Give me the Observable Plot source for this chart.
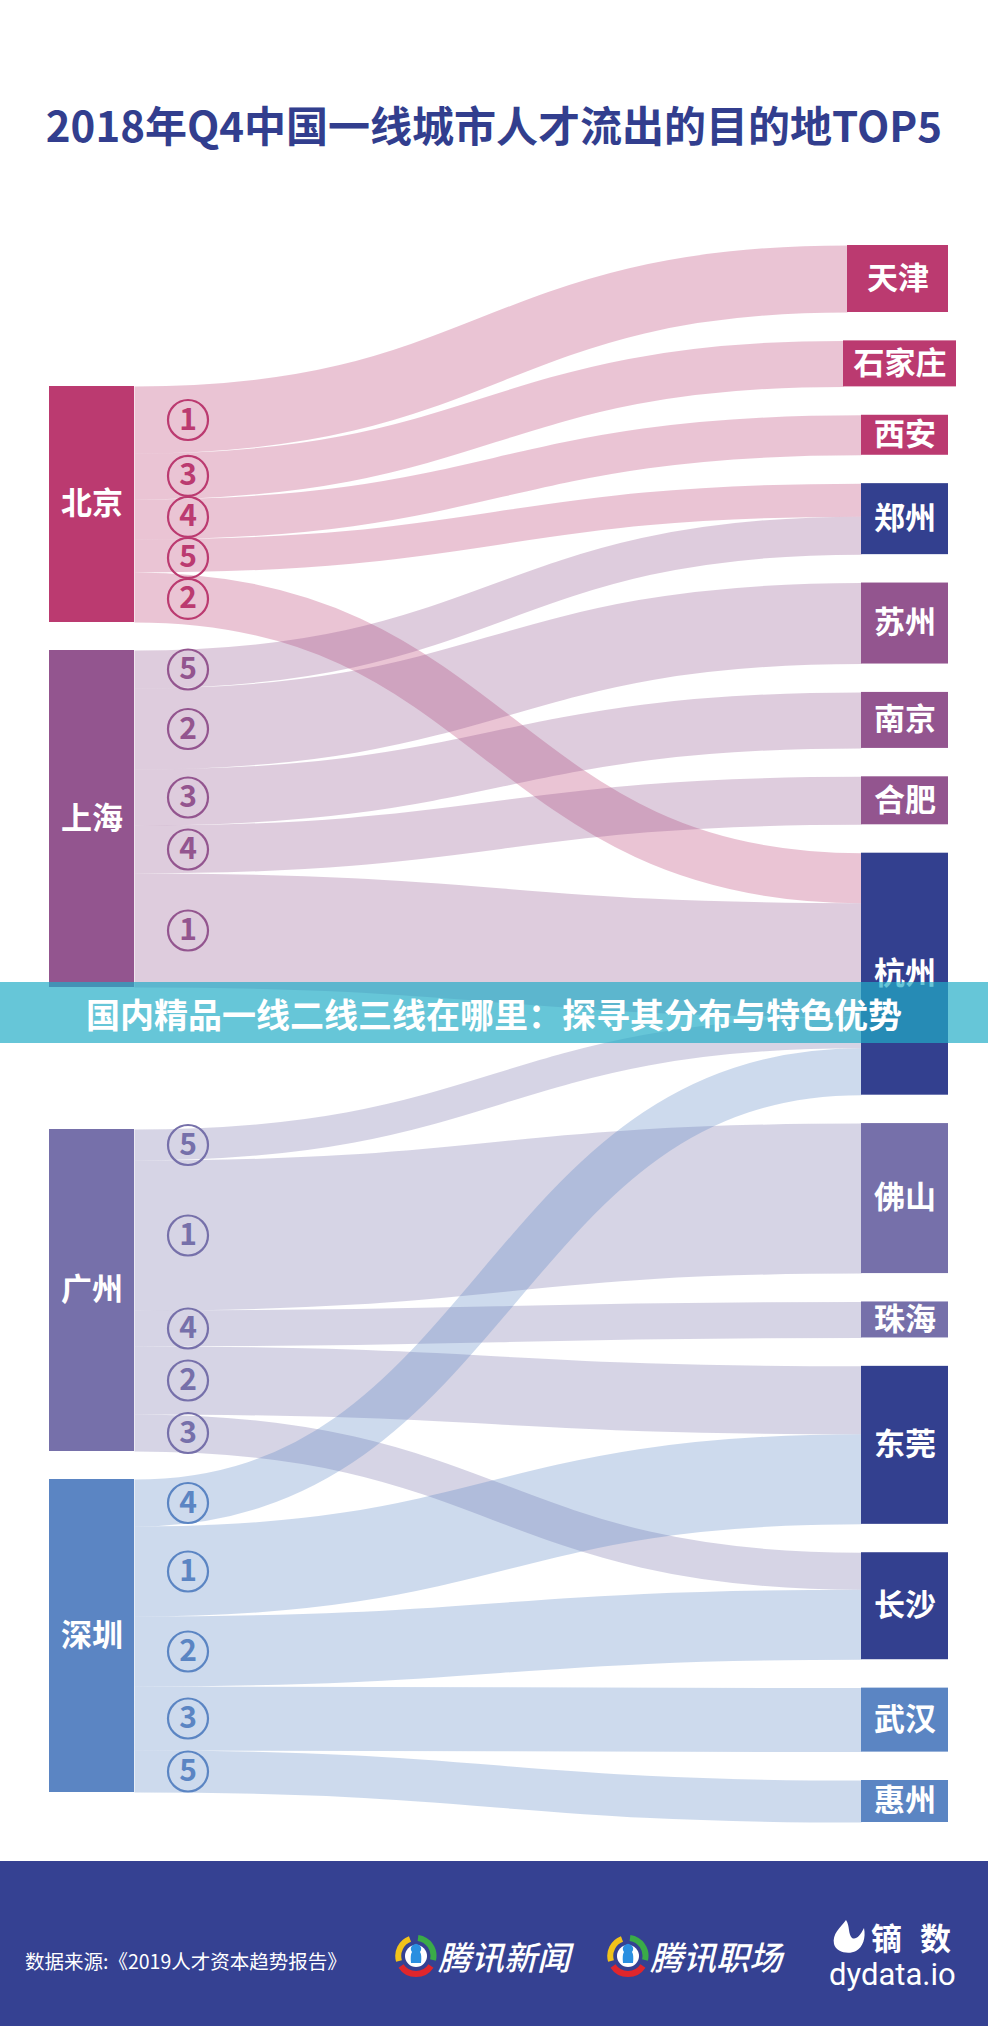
<!DOCTYPE html>
<html>
<head>
<meta charset="utf-8">
<script src="https://cdn.jsdelivr.net/npm/d3@7"></script>
<script src="https://cdn.jsdelivr.net/npm/@observablehq/plot@0.6"></script>
<style>
  body { margin: 0; background: #fff; }
  #page { position: relative; width: 988px; height: 2026px; overflow: hidden; background: #fff;
          font-family: "Noto Sans CJK SC", "Noto Sans", sans-serif; }
  #title { position: absolute; top: 100px; left: 0; width: 988px; height: 48px; line-height: 48px;
           text-align: center; font-size: 42px; font-weight: 700; color: #323e8e; white-space: nowrap; }
  #chart { position: absolute; top: 200px; left: 0; }
  #banner { position: absolute; top: 982px; left: 0; width: 988px; height: 61px; line-height: 64px;
            background: rgba(33,172,199,0.69); color: #fff; text-align: center; font-size: 34px; font-weight: 700; white-space: nowrap; }
  #footer { position: absolute; top: 1861px; left: 0; width: 988px; height: 165px; background: #354192; color: #fff; }
  .ft { position: absolute; white-space: nowrap; }
</style>
</head>
<body>
<div id="page">
  <div id="title">2018年Q4中国一线城市人才流出的目的地TOP5</div>
  <div id="chart"></div>
  <div id="banner">国内精品一线二线三线在哪里：探寻其分布与特色优势</div>
  <div id="footer">
    <div class="ft" style="left:25px;top:85px;font-size:19.5px;line-height:30px;">数据来源:《2019人才资本趋势报告》</div>
    <svg class="ft" style="left:394px;top:73px" width="44" height="44" viewBox="-22 -22 44 44">
      <path d="M -6 -17 A 18 18 0 0 0 -17 5" fill="none" stroke="#f2c31a" stroke-width="6"/>
      <path d="M 2 -18 A 18 18 0 0 1 17 4" fill="none" stroke="#3aab48" stroke-width="6"/>
      <path d="M -15 10 A 18 18 0 0 0 15 10" fill="none" stroke="#e0262c" stroke-width="6"/>
      <circle cx="0" cy="0" r="11" fill="#fff"/>
      <path d="M -5 7 Q -6 -1 -4 -4 A 5 5 0 1 1 4 -4 Q 6 -1 5 7 Z" fill="#2a8fe0"/>
    </svg>
    <div class="ft" style="left:438px;top:73px;font-size:33px;line-height:44px;font-style:italic;font-weight:500;">腾讯新闻</div>
    <svg class="ft" style="left:606px;top:73px" width="44" height="44" viewBox="-22 -22 44 44">
      <path d="M -6 -17 A 18 18 0 0 0 -17 5" fill="none" stroke="#f2c31a" stroke-width="6"/>
      <path d="M 2 -18 A 18 18 0 0 1 17 4" fill="none" stroke="#3aab48" stroke-width="6"/>
      <path d="M -15 10 A 18 18 0 0 0 15 10" fill="none" stroke="#e0262c" stroke-width="6"/>
      <circle cx="0" cy="0" r="11" fill="#fff"/>
      <path d="M -5 7 Q -6 -1 -4 -4 A 5 5 0 1 1 4 -4 Q 6 -1 5 7 Z" fill="#2a8fe0"/>
    </svg>
    <div class="ft" style="left:650px;top:73px;font-size:33px;line-height:44px;font-style:italic;font-weight:500;">腾讯职场</div>
    <svg class="ft" style="left:830px;top:57px" width="38" height="38" viewBox="0 0 38 38">
      <path d="M 16 2 C 10 10 2 16 4 26 C 6 34 18 37 26 33 C 33 29 36 20 34 10 C 30 18 26 22 22 20 C 18 16 20 8 16 2 Z" fill="#fff"/>
    </svg>
    <div class="ft" style="left:871px;top:56px;font-size:31px;line-height:40px;font-weight:700;letter-spacing:18px;">镝数</div>
    <div class="ft" style="left:829px;top:96px;font-size:31px;line-height:36px;font-family:Roboto,'Liberation Sans',sans-serif;">dydata.io</div>
  </div>
</div>
<script>
// ---- data ----
const sources = ["北京", "上海", "广州", "深圳"];
const sourceColors = ["#bb3a70", "#93558f", "#7670aa", "#5b85c3"];
const targets = ["天津", "石家庄", "西安", "郑州", "苏州", "南京", "合肥", "杭州", "佛山", "珠海", "东莞", "长沙", "武汉", "惠州"];
// destinations by rank ①..⑤ and their flow sizes
const destBeijing  = ["天津", "杭州", "石家庄", "西安", "郑州"];
const valBeijing   = [67, 50, 46, 40, 33];
const destShanghai = ["杭州", "苏州", "南京", "合肥", "郑州"];
const valShanghai  = [114, 81, 56, 48, 38];
const destGuangzhou = ["佛山", "东莞", "长沙", "珠海", "杭州"];
const valGuangzhou  = [150, 68, 37, 36, 31];
const destShenzhen = ["东莞", "长沙", "武汉", "杭州", "惠州"];
const valShenzhen  = [90, 70, 64, 47, 42];
const mixedColor = "#33408f";

// ---- layout ----
const dests = [destBeijing, destShanghai, destGuangzhou, destShenzhen];
const vals = [valBeijing, valShanghai, valGuangzhou, valShenzhen];
const flows = [];
sources.forEach((s, si) => dests[si].forEach((t, k) =>
  flows.push({source: s, si, target: t, ti: targets.indexOf(t), value: vals[si][k], rank: k + 1, color: sourceColors[si]})));

const SX0 = 49, SX1 = 134, TX0 = 861, TX1 = 948;
const wideBox = {"天津": [847, 948], "石家庄": [843, 956]};
const T_TOP = 245, T_BOTTOM = 1822;
const tTotal = d3.rollup(flows, v => d3.sum(v, d => d.value), d => d.target);
const sTotal = d3.rollup(flows, v => d3.sum(v, d => d.value), d => d.source);
const tGap = (T_BOTTOM - T_TOP - d3.sum(targets, t => tTotal.get(t))) / (targets.length - 1);
const tNodes = [];
let yy = T_TOP;
targets.forEach(t => {
  const h = tTotal.get(t);
  const srcs = new Set(flows.filter(f => f.target === t).map(f => f.si));
  const [x0, x1] = wideBox[t] || [TX0, TX1];
  tNodes.push({name: t, x0, x1, y0: yy, y1: yy + h,
    color: srcs.size > 1 ? mixedColor : sourceColors[[...srcs][0]]});
  yy += h + tGap;
});
const blockStart = {"北京": 386, "广州": 1129};
const S_GAP = 28;
const sNodes = [];
yy = 0;
sources.forEach((s, si) => {
  if (blockStart[s] !== undefined) yy = blockStart[s];
  const h = sTotal.get(s);
  sNodes.push({name: s, x0: SX0, x1: SX1, y0: yy, y1: yy + h, color: sourceColors[si]});
  yy += h + S_GAP;
});
// stack links
const MIN_SEP = 41;
sNodes.forEach(n => {
  let y = n.y0;
  const fs = flows.filter(f => f.source === n.name).sort((a, b) => a.ti - b.ti);
  fs.forEach(f => { f.sy = y + f.value / 2; f.ly = f.sy; y += f.value; });
  // relax rank badges so the circles don't overlap
  for (let it = 0; it < 50; it++) {
    for (let i = 1; i < fs.length; i++) {
      const d = fs[i].ly - fs[i - 1].ly;
      if (d < MIN_SEP) { const s = (MIN_SEP - d) / 2; fs[i - 1].ly -= s; fs[i].ly += s; }
    }
  }
});
tNodes.forEach(n => {
  let y = n.y0;
  flows.filter(f => f.target === n.name).sort((a, b) => a.si - b.si)
    .forEach(f => { f.ty = y + f.value / 2; f.tx = n.x0; y += f.value; });
});
const nodes = [...sNodes, ...tNodes];

const chart = Plot.plot({
  width: 988,
  height: 1660,
  margin: 0,
  x: {domain: [0, 988], range: [0, 988], axis: null},
  y: {domain: [200, 1860], range: [0, 1660], axis: null},
  color: {type: "identity"},
  style: {fontFamily: "'Noto Sans CJK SC', 'Noto Sans', sans-serif", background: "transparent"},
  marks: [
    Plot.link(flows, {x1: SX1, y1: "sy", x2: "tx", y2: "ty", stroke: "color", strokeOpacity: 0.3,
      strokeWidth: "value", curve: "bump-x"}),
    Plot.rect(nodes, {x1: "x0", x2: "x1", y1: "y0", y2: "y1", fill: "color"}),
    Plot.text(nodes, {x: d => (d.x0 + d.x1) / 2, y: d => (d.y0 + d.y1) / 2, text: "name", fill: "#fff",
      fontSize: 31, fontWeight: 700}),
    Plot.dot(flows, {x: 187.5, y: "ly", r: 20, stroke: "color", strokeWidth: 2.2, fill: "none"}),
    Plot.text(flows, {x: 187.5, y: "ly", text: d => String(d.rank), fill: "color", fontSize: 30, fontWeight: 700})
  ]
});
document.getElementById("chart").appendChild(chart);
</script>
</body>
</html>
